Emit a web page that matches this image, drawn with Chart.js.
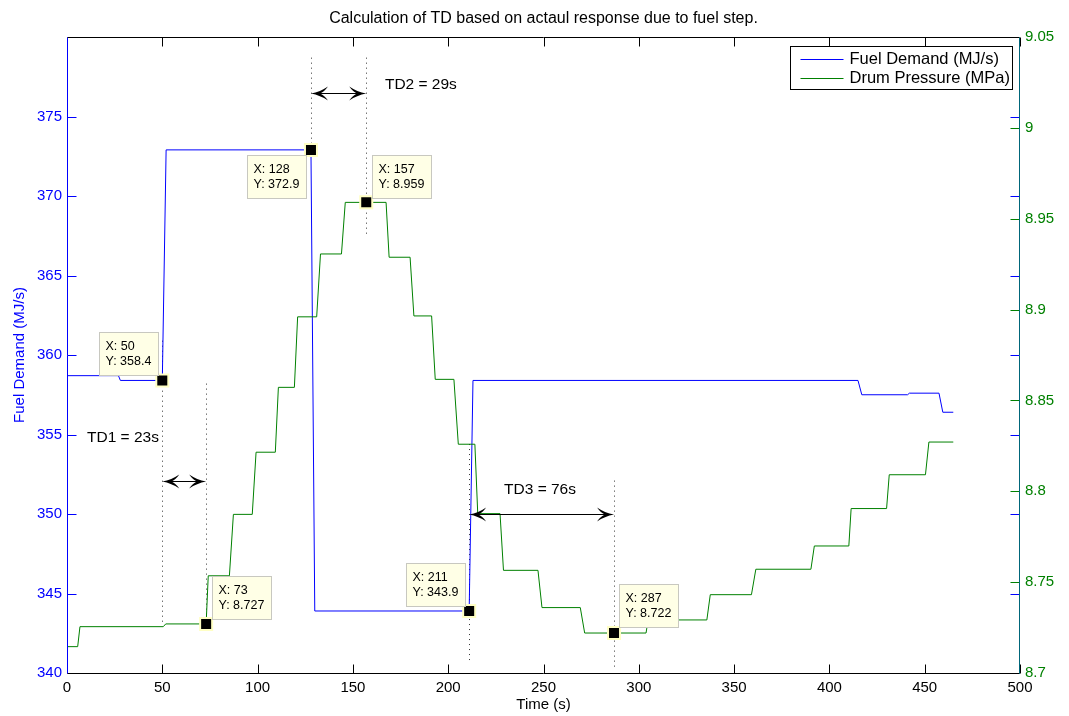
<!DOCTYPE html>
<html>
<head>
<meta charset="utf-8">
<title>Fuel step response</title>
<script src="https://cdn.jsdelivr.net/npm/chart.js@4.4.1/dist/chart.umd.min.js"></script>
<style>
  html, body { margin: 0; padding: 0; background: #fff; }
  #wrap { width: 1069px; height: 716px; }
</style>
</head>
<body>
<div id="wrap"><canvas id="stepChart" width="1069" height="716"></canvas></div>
<script>
// axis ticks
const timeTicks = [0, 50, 100, 150, 200, 250, 300, 350, 400, 450, 500];
const fuelTicks = [340, 345, 350, 355, 360, 365, 370, 375];
const pressureTicks = [8.7, 8.75, 8.8, 8.85, 8.9, 8.95, 9, 9.05];

// fuel demand (MJ/s) vs time (s)
const fuelTime = [0, 27, 28, 50, 52, 128, 130, 211, 213, 415, 417, 441, 442, 457.5, 459.5, 465];
const fuelValue = [358.7, 358.7, 358.4, 358.4, 372.9, 372.9, 343.9, 343.9, 358.4, 358.4, 357.5, 357.5, 357.6, 357.6, 356.4, 356.4];

// drum pressure (MPa) vs time (s)
const pressureTime = [0, 5.6, 6.8, 50.5, 51.8, 73, 74.1, 85.2, 87.3, 97.2, 99.2, 109.3, 110.9, 119.3, 121, 131, 133, 144, 146,
  167.4, 169, 180, 182, 191.3, 193.2, 203, 205.3, 214, 215.5, 227.2, 229, 247.1, 249.2, 269.3, 271.6, 303.8, 304.9,
  335.7, 337.5, 359.1, 361.4, 390.3, 392.1, 410.2, 411.4, 430, 431.4, 450.4, 452.2, 465];
const pressureValue = [8.7145, 8.7145, 8.7255, 8.7255, 8.727, 8.727, 8.7535, 8.7535, 8.7873, 8.7873, 8.8215, 8.8215, 8.8572, 8.8572, 8.896, 8.896, 8.9306, 8.9306, 8.959,
  8.959, 8.9288, 8.9288, 8.8965, 8.8965, 8.8616, 8.8616, 8.8259, 8.8259, 8.7877, 8.7877, 8.7565, 8.7565, 8.736, 8.736, 8.722, 8.722, 8.7292,
  8.7292, 8.7431, 8.7431, 8.7571, 8.7571, 8.7699, 8.7699, 8.7905, 8.7905, 8.8091, 8.8091, 8.8271, 8.8271];

// data tips
const fuelTipTime = [50, 128, 211];
const fuelTipValue = [358.4, 372.9, 343.9];
const pressureTipTime = [73, 157, 287];
const pressureTipValue = [8.727, 8.959, 8.722];

const BLUE = '#0000ff';
const GREEN = '#008000';
const FONT = '"Liberation Sans", Arial, Helvetica, sans-serif';

// tip box offset from its marker, in px (left/top corner)
const tipBoxes = [
  { axis: 'y', t: fuelTipTime[0], v: fuelTipValue[0], dx: -62, dy: -48 },
  { axis: 'y', t: fuelTipTime[1], v: fuelTipValue[1], dx: -63, dy: 5 },
  { axis: 'y', t: fuelTipTime[2], v: fuelTipValue[2], dx: -62, dy: -48 },
  { axis: 'y1', t: pressureTipTime[0], v: pressureTipValue[0], dx: 6, dy: -48 },
  { axis: 'y1', t: pressureTipTime[1], v: pressureTipValue[1], dx: 6, dy: -47 },
  { axis: 'y1', t: pressureTipTime[2], v: pressureTipValue[2], dx: 5, dy: -49 },
];

// dotted guides (time, fuel-axis extent)
const guides = [
  { t: 50, from: 343.1, to: 360.9 },
  { t: 73, from: 343.5, to: 358.2 },
  { t: 128, from: 372.9, to: 378.7 },
  { t: 157, from: 367.5, to: 378.7 },
  { t: 211, from: 340.6, to: 354.4 },
  { t: 287, from: 340.3, to: 352.1 },
];

// delay spans
const spans = [
  { n: 1, from: 50, to: 73, at: 352.1, labelT: 10.5, labelAt: 354.8 },
  { n: 2, from: 128, to: 157, at: 376.5, labelT: 166.8, labelAt: 377.0 },
  { n: 3, from: 211, to: 287, at: 350.0, labelT: 229.3, labelAt: 351.5 },
];

const toPoints = (xs, ys) => xs.map((t, i) => ({ x: t, y: ys[i] }));
const crisp = (p) => Math.round(p) + 0.5;

function arrowHead(ctx, x, y, dir) {
  const L = 17, W = 7, N = 9;
  ctx.beginPath();
  ctx.moveTo(x, y);
  ctx.quadraticCurveTo(x - dir * L * 0.55, y - W * 0.25, x - dir * L, y - W);
  ctx.quadraticCurveTo(x - dir * (L + N) * 0.5, y - W * 0.2, x - dir * N, y);
  ctx.quadraticCurveTo(x - dir * (L + N) * 0.5, y + W * 0.2, x - dir * L, y + W);
  ctx.quadraticCurveTo(x - dir * L * 0.55, y + W * 0.25, x, y);
  ctx.closePath();
  ctx.fill();
}

const overlay = {
  id: 'overlay',
  beforeDatasetsDraw(chart) {
    const { ctx, scales: { x, y } } = chart;
    ctx.save();
    ctx.strokeStyle = '#333';
    ctx.lineWidth = 1;
    ctx.setLineDash([1, 4]);
    guides.forEach(g => {
      const px = crisp(x.getPixelForValue(g.t));
      ctx.beginPath();
      ctx.moveTo(px, y.getPixelForValue(g.to));
      ctx.lineTo(px, y.getPixelForValue(g.from));
      ctx.stroke();
    });
    ctx.restore();
  },
  afterDatasetsDraw(chart) {
    const { ctx, scales } = chart;
    const x = scales.x, y = scales.y;
    ctx.save();

    // arrows and delay labels
    ctx.fillStyle = '#000';
    ctx.strokeStyle = '#000';
    ctx.lineWidth = 1;
    spans.forEach(s => {
      const x1 = x.getPixelForValue(s.from), x2 = x.getPixelForValue(s.to);
      const py = crisp(y.getPixelForValue(s.at));
      ctx.beginPath();
      ctx.moveTo(x1 + 6, py);
      ctx.lineTo(x2 - 6, py);
      ctx.stroke();
      arrowHead(ctx, x1, py, -1);
      arrowHead(ctx, x2, py, 1);
      ctx.font = '15.5px ' + FONT;
      ctx.textAlign = 'left';
      ctx.textBaseline = 'middle';
      ctx.fillText('TD' + s.n + ' = ' + (s.to - s.from) + 's', x.getPixelForValue(s.labelT), y.getPixelForValue(s.labelAt));
    });

    // data tip boxes
    ctx.font = '12.5px ' + FONT;
    tipBoxes.forEach(b => {
      const px = x.getPixelForValue(b.t), py = scales[b.axis].getPixelForValue(b.v);
      const l1 = 'X: ' + b.t, l2 = 'Y: ' + b.v;
      const w = Math.round(Math.max(ctx.measureText(l1).width, ctx.measureText(l2).width) + 13);
      const h = 43;
      const bx = Math.round(px + b.dx) + 0.5;
      const by = Math.round(py + b.dy) + 0.5;
      const left = b.dx < 0 ? Math.round(px + b.dx + 58 - w) + 0.5 : bx;
      ctx.fillStyle = '#ffffe6';
      ctx.fillRect(left, by, w, h);
      ctx.strokeStyle = '#c8c8c0';
      ctx.strokeRect(left, by, w, h);
      ctx.fillStyle = '#000';
      ctx.textAlign = 'left';
      ctx.textBaseline = 'middle';
      ctx.fillText(l1, left + 6, by + 14);
      ctx.fillText(l2, left + 6, by + 29.5);
    });
    ctx.restore();
  },
  afterDraw(chart) {
    const { ctx, chartArea: a, scales: { x, y, y1 } } = chart;
    const L = crisp(a.left), R = crisp(a.right) - 1, T = crisp(a.top), B = crisp(a.bottom);
    const tick = 9;
    ctx.save();
    ctx.lineWidth = 1;

    // x ticks, top and bottom
    ctx.strokeStyle = '#000';
    ctx.beginPath();
    timeTicks.forEach(t => {
      const px = crisp(x.getPixelForValue(t));
      ctx.moveTo(px, B); ctx.lineTo(px, B - tick);
      ctx.moveTo(px, T); ctx.lineTo(px, T + tick);
    });
    ctx.stroke();

    // fuel ticks on both sides
    ctx.strokeStyle = BLUE;
    ctx.beginPath();
    fuelTicks.forEach(v => {
      const py = crisp(y.getPixelForValue(v));
      ctx.moveTo(L, py); ctx.lineTo(L + tick, py);
      ctx.moveTo(R, py); ctx.lineTo(R - tick, py);
    });
    ctx.stroke();

    // pressure ticks
    ctx.strokeStyle = GREEN;
    ctx.beginPath();
    pressureTicks.forEach(v => {
      const py = crisp(y1.getPixelForValue(v));
      ctx.moveTo(R, py); ctx.lineTo(R - tick, py);
    });
    ctx.stroke();

    // box
    ctx.strokeStyle = '#000';
    ctx.beginPath();
    ctx.moveTo(L, T); ctx.lineTo(R, T);
    ctx.moveTo(L, B); ctx.lineTo(R, B);
    ctx.stroke();
    ctx.strokeStyle = BLUE;
    ctx.beginPath(); ctx.moveTo(L, T); ctx.lineTo(L, B); ctx.stroke();
    ctx.strokeStyle = '#00667a';
    ctx.beginPath(); ctx.moveTo(R, T); ctx.lineTo(R, B); ctx.stroke();

    // legend
    const lines = chart.data.datasets.filter(d => d.showInLegend);
    const lx = 790.5, ly = 46.5, lw = 222, lh = 43;
    ctx.fillStyle = '#fff';
    ctx.fillRect(lx, ly, lw, lh);
    ctx.strokeStyle = '#000';
    ctx.strokeRect(lx, ly, lw, lh);
    ctx.font = '16.5px ' + FONT;
    ctx.textAlign = 'left';
    ctx.textBaseline = 'middle';
    lines.forEach((d, i) => {
      const ry = Math.round(ly + 12 + i * 19.5) + 0.5;
      ctx.strokeStyle = d.borderColor;
      ctx.beginPath(); ctx.moveTo(lx + 10, ry); ctx.lineTo(lx + 53, ry); ctx.stroke();
      ctx.fillStyle = '#000';
      ctx.fillText(d.label, lx + 59, ry);
    });
    ctx.restore();
  }
};

Chart.defaults.font.family = FONT;

new Chart(document.getElementById('stepChart'), {
  type: 'line',
  data: {
    datasets: [
      {
        label: 'fuel tips', type: 'scatter', data: toPoints(fuelTipTime, fuelTipValue), yAxisID: 'y',
        pointStyle: 'rect', pointRadius: 8.5, backgroundColor: '#000', borderColor: '#ffffc4', borderWidth: 2, order: 0
      },
      {
        label: 'pressure tips', type: 'scatter', data: toPoints(pressureTipTime, pressureTipValue), yAxisID: 'y1',
        pointStyle: 'rect', pointRadius: 8.5, backgroundColor: '#000', borderColor: '#ffffc4', borderWidth: 2, order: 0
      },
      {
        label: 'Fuel Demand (MJ/s)', data: toPoints(fuelTime, fuelValue), yAxisID: 'y', showInLegend: true,
        borderColor: BLUE, borderWidth: 1, pointRadius: 0, tension: 0, fill: false, order: 2
      },
      {
        label: 'Drum Pressure (MPa)', data: toPoints(pressureTime, pressureValue), yAxisID: 'y1', showInLegend: true,
        borderColor: GREEN, borderWidth: 1, pointRadius: 0, tension: 0, fill: false, order: 1
      }
    ]
  },
  options: {
    responsive: false,
    animation: false,
    events: [],
    layout: { padding: 0 },
    plugins: {
      legend: { display: false },
      tooltip: { enabled: false },
      title: {
        display: true,
        fullSize: false,
        text: 'Calculation of TD based on actaul response due to fuel step.',
        color: '#000',
        font: { size: 16, weight: 'normal' },
        padding: { top: 8.5, bottom: 9.3 }
      }
    },
    scales: {
      x: {
        type: 'linear', min: 0, max: 500,
        afterBuildTicks: s => { s.ticks = timeTicks.map(v => ({ value: v })); },
        afterFit: s => { s.height = 43; },
        grid: { display: false, drawTicks: false },
        border: { display: false },
        ticks: { color: '#000', font: { size: 15 }, padding: 6, maxRotation: 0 },
        title: { display: true, text: 'Time (s)', color: '#000', font: { size: 15 }, padding: { top: 0, bottom: 2 } }
      },
      y: {
        position: 'left', min: 340, max: 380,
        afterBuildTicks: s => { s.ticks = fuelTicks.map(v => ({ value: v })); },
        afterFit: s => { s.width = 67; },
        grid: { display: false, drawTicks: false },
        border: { display: false },
        ticks: { color: BLUE, font: { size: 15 }, padding: 5 },
        title: { display: true, text: 'Fuel Demand (MJ/s)', color: BLUE, font: { size: 15 }, padding: { top: 11, bottom: 0 } }
      },
      y1: {
        position: 'right', min: 8.7, max: 9.05,
        afterBuildTicks: s => { s.ticks = pressureTicks.map(v => ({ value: v })); },
        afterFit: s => { s.width = 49; },
        grid: { display: false, drawTicks: false },
        border: { display: false },
        ticks: { color: GREEN, font: { size: 15 }, padding: 5, callback: v => String(+v.toFixed(2)) }
      }
    }
  },
  plugins: [overlay]
});
</script>
</body>
</html>
